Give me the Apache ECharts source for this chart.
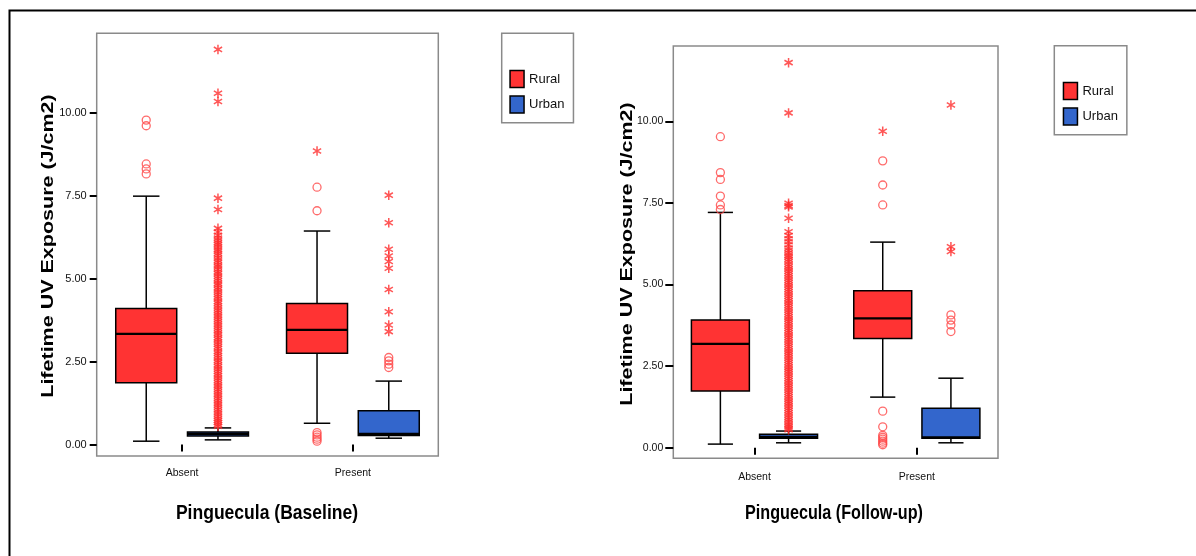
<!DOCTYPE html>
<html>
<head>
<meta charset="utf-8">
<script src="https://cdn.jsdelivr.net/npm/echarts@6/dist/echarts.min.js"></script>
<style>
  html, body { margin: 0; padding: 0; background: #ffffff; }
  #chart { width: 1196px; height: 556px; }
</style>
</head>
<body>
<div id="chart"></div>
<script>
// ---------------- DATA ----------------
const categories = ['Absent', 'Present'];
const groups = ['Rural', 'Urban'];
const yTickValues = [0, 2.5, 5, 7.5, 10];
const yTitle = 'Lifetime UV Exposure (J/cm2)';
const xTitles = ['Pinguecula (Baseline)', 'Pinguecula (Follow-up)'];

// box stats per category: [lower whisker, Q1, median, Q3, upper whisker]
const baselineRural = [[0.10, 1.86, 3.33, 4.10, 7.48], [0.64, 2.75, 3.45, 4.25, 6.43]];
const baselineUrban = [[0.14, 0.26, 0.32, 0.38, 0.50], [0.19, 0.27, 0.32, 1.02, 1.91]];
const followupRural = [[0.11, 1.74, 3.18, 3.91, 7.21], [1.55, 3.35, 3.96, 4.81, 6.30]];
const followupUrban = [[0.15, 0.29, 0.33, 0.41, 0.51], [0.15, 0.29, 0.32, 1.21, 2.13]];

// outliers (circles) and extremes (stars) per category [Absent, Present]
const baselineRuralCircles = [[9.77, 9.60, 8.45, 8.30, 8.15], [7.75, 7.04, 0.36, 0.29, 0.22, 0.16, 0.10]];
const baselineRuralStars = [[], [8.84]];
const baselineUrbanCircles = [[], [2.62, 2.52, 2.42, 2.32]];
const baselineUrbanStars = [
  [11.90, 10.58, 10.33, 7.42, 7.08, 6.51, 6.40, 6.30, 6.22, 6.15, 6.08, 6.02, 5.95, 5.88, 5.83, 5.76, 5.70,
   5.62, 5.55, 5.49, 5.41, 5.35, 5.28, 5.20, 5.14, 5.07, 5.00, 4.93, 4.86, 4.80, 4.72, 4.66, 4.59, 4.52,
   4.45, 4.39, 4.31, 4.25, 4.18, 4.11, 4.04, 3.97, 3.90, 3.84, 3.77, 3.70, 3.63, 3.57, 3.50, 3.43, 3.36,
   3.30, 3.22, 3.16, 3.09, 3.02, 2.95, 2.89, 2.81, 2.75, 2.68, 2.61, 2.54, 2.48, 2.40, 2.34, 2.27, 2.20,
   2.13, 2.07, 2.00, 1.93, 1.86, 1.79, 1.73, 1.66, 1.59, 1.52, 1.46, 1.39, 1.32, 1.25, 1.19, 1.12, 1.05,
   0.98, 0.92, 0.85, 0.78, 0.72, 0.66, 0.60, 0.55],
  [7.51, 6.68, 5.88, 5.68, 5.51, 5.31, 4.67, 4.00, 3.60, 3.40]
];
const followupRuralCircles = [[9.53, 8.43, 8.22, 7.71, 7.44, 7.30], [8.79, 8.05, 7.44, 1.12, 0.64, 0.38, 0.32, 0.26, 0.20, 0.14, 0.09]];
const followupRuralStars = [[], [9.70]];
const followupUrbanCircles = [[], [4.07, 3.91, 3.76, 3.56]];
const followupUrbanStars = [
  [11.80, 10.26, 7.49, 7.42, 7.38, 7.03, 6.62, 6.50, 6.40, 6.31, 6.22, 6.12, 6.05, 5.97, 5.90, 5.84, 5.77,
   5.70, 5.62, 5.55, 5.48, 5.41, 5.34, 5.27, 5.20, 5.13, 5.06, 4.99, 4.92, 4.85, 4.78, 4.71, 4.64, 4.57,
   4.50, 4.43, 4.36, 4.29, 4.22, 4.15, 4.08, 4.01, 3.94, 3.87, 3.80, 3.73, 3.66, 3.59, 3.52, 3.45, 3.38,
   3.31, 3.24, 3.17, 3.10, 3.03, 2.96, 2.89, 2.82, 2.75, 2.68, 2.61, 2.54, 2.47, 2.40, 2.33, 2.26, 2.19,
   2.12, 2.05, 1.98, 1.91, 1.84, 1.77, 1.70, 1.63, 1.56, 1.49, 1.42, 1.35, 1.28, 1.21, 1.14, 1.07, 1.00,
   0.93, 0.86, 0.79, 0.72, 0.66, 0.60, 0.55],
  [10.50, 6.16, 6.01]
];

// ---------------- STYLE / LAYOUT ----------------
const RED = '#ff3333', BLUE = '#3366cc';
const OUT_RED = '#ff2d2d';
const SANS = "'Liberation Sans', Arial, sans-serif";
const OFFSET = 0.21, BOXW = 0.357, CAPW = 0.155;
const STAR = 'path://M4.2 0L5.8 0L5.8 10L4.2 10Z M1.05 1.8L9.74 6.82L8.95 8.2L0.26 3.18Z M0.26 6.82L8.95 1.8L9.74 3.18L1.05 8.2Z';

const grids = [
  { left: 96.7, top: 33.3, width: 341.6, height: 422.7, min: -0.346, max: 12.385,
    tickLen: 7, labMargin: 10, xLabMargin: 12, labSize: 11, catSize: 10.5,
    yTitlePos: [49, 246], yTitleScale: 0.74, xTitlePos: [267, 513], xTitleScale: 0.835,
    sets: [baselineRural, baselineUrban], circles: [baselineRuralCircles, baselineUrbanCircles], stars: [baselineRuralStars, baselineUrbanStars],
    legend: { left: 501.7, top: 33.3, padTop: 36.5, padLeft: 7.6 } },
  { left: 673.3, top: 46, width: 324.7, height: 412.3, min: -0.325, max: 12.31,
    tickLen: 8, labMargin: 10, xLabMargin: 13, labSize: 10.5, catSize: 10.5,
    yTitlePos: [628, 254], yTitleScale: 0.74, xTitlePos: [834, 513], xTitleScale: 0.77,
    sets: [followupRural, followupUrban], circles: [followupRuralCircles, followupUrbanCircles], stars: [followupRuralStars, followupUrbanStars],
    legend: { left: 1054.3, top: 45.7, padTop: 36, padLeft: 8.4 } }
];

function boxRender(side) {
  return function (params, api) {
    const cat = api.value(0);
    const band = api.size([1, 0])[0];
    const cx = api.coord([cat, 0])[0] + side * band * OFFSET;
    const hb = band * BOXW / 2, hc = band * CAPW / 2;
    const y = [1, 2, 3, 4, 5].map(i => api.coord([cat, api.value(i)])[1]);
    const ln = { stroke: '#000', lineWidth: 1.5 };
    return {
      type: 'group',
      children: [
        { type: 'line', shape: { x1: cx, y1: y[4], x2: cx, y2: y[3] }, style: ln },
        { type: 'line', shape: { x1: cx, y1: y[1], x2: cx, y2: y[0] }, style: ln },
        { type: 'line', shape: { x1: cx - hc, y1: y[4], x2: cx + hc, y2: y[4] }, style: ln },
        { type: 'line', shape: { x1: cx - hc, y1: y[0], x2: cx + hc, y2: y[0] }, style: ln },
        { type: 'rect', shape: { x: cx - hb, y: y[3], width: 2 * hb, height: y[1] - y[3] },
          style: { fill: api.visual('color'), stroke: '#000', lineWidth: 1.5 } },
        { type: 'line', shape: { x1: cx - hb, y1: y[2], x2: cx + hb, y2: y[2] }, style: { stroke: '#000', lineWidth: 2.2 } }
      ]
    };
  };
}

function pts(arr) {
  const out = [];
  arr.forEach((vals, ci) => vals.forEach(v => out.push([ci, v])));
  return out;
}

const option = {
  animation: false,
  backgroundColor: '#ffffff',
  textStyle: { fontFamily: SANS },
  grid: [], xAxis: [], yAxis: [], series: [], legend: [],
  graphic: [{
    type: 'rect', left: 7, top: 8, shape: { width: 1200, height: 560 },
    style: { fill: 'none', stroke: '#000', lineWidth: 2 }, silent: true
  }]
};

grids.forEach((g, gi) => {
  option.grid.push({ left: g.left, top: g.top, width: g.width, height: g.height,
    show: true, borderColor: '#8a8a8a', borderWidth: 1.5, backgroundColor: 'transparent' });
  option.xAxis.push({
    type: 'category', gridIndex: gi, data: categories, boundaryGap: true,
    axisLine: { show: false },
    axisTick: { show: true, alignWithLabel: true, interval: 0, length: 7, lineStyle: { color: '#000', width: 2 } },
    axisLabel: { margin: g.xLabMargin, fontFamily: SANS, fontSize: g.catSize, color: '#111' },
    splitLine: { show: false }
  });
  option.yAxis.push({
    type: 'value', gridIndex: gi, min: g.min, max: g.max,
    axisLine: { show: false },
    axisTick: { show: true, customValues: yTickValues, length: g.tickLen, lineStyle: { color: '#000', width: 2 } },
    axisLabel: { customValues: yTickValues, margin: g.labMargin, fontFamily: SANS, fontSize: g.labSize, color: '#111',
      formatter: v => v.toFixed(2) },
    splitLine: { show: false }
  });
  // axis titles (horizontally condensed like the source)
  option.graphic.push({
    type: 'text', x: g.xTitlePos[0], y: g.xTitlePos[1], scaleX: g.xTitleScale, scaleY: 1, silent: true,
    style: { text: xTitles[gi], fontFamily: SANS, fontWeight: 'bold', fontSize: 21, fill: '#000',
      align: 'center', verticalAlign: 'middle' }
  });
  option.graphic.push({
    type: 'text', x: g.yTitlePos[0], y: g.yTitlePos[1], rotation: Math.PI / 2, scaleX: 1, scaleY: g.yTitleScale, silent: true,
    style: { text: yTitle, fontFamily: SANS, fontWeight: 'bold', fontSize: 21.5, fill: '#000',
      align: 'center', verticalAlign: 'middle' }
  });
  const colors = [RED, BLUE];
  g.sets.forEach((set, si) => {
    const side = si === 0 ? -1 : 1;
    option.series.push({
      type: 'custom', name: groups[si], xAxisIndex: gi, yAxisIndex: gi,
      itemStyle: { color: colors[si] },
      renderItem: boxRender(side),
      encode: { x: 0, y: [1, 2, 3, 4, 5] },
      data: set.map((s, ci) => [ci].concat(s)),
      z: 2
    });
    const offPx = side * (g.width / categories.length) * OFFSET;
    option.series.push({
      type: 'scatter', name: groups[si] + ' outliers', xAxisIndex: gi, yAxisIndex: gi,
      symbol: 'circle', symbolSize: 8, symbolOffset: [offPx, 0],
      itemStyle: { color: 'rgba(0,0,0,0)', borderColor: '#ff4646', borderWidth: 1.3 },
      data: pts(g.circles[si]), z: 3
    });
    option.series.push({
      type: 'scatter', name: groups[si] + ' extremes', xAxisIndex: gi, yAxisIndex: gi,
      symbol: STAR, symbolSize: [9, 9.5], symbolOffset: [offPx, 0],
      itemStyle: { color: OUT_RED },
      data: pts(g.stars[si]), z: 3
    });
  });
  option.legend.push({
    orient: 'vertical', left: g.legend.left, top: g.legend.top,
    padding: [g.legend.padTop, 9, 9, g.legend.padLeft],
    borderColor: '#8a8a8a', borderWidth: 1.5, backgroundColor: '#fff',
    itemWidth: 14, itemHeight: 17, itemGap: 7, selectedMode: false,
    itemStyle: { borderColor: '#000', borderWidth: 1.5 },
    textStyle: { fontFamily: SANS, fontSize: 13, color: '#111' },
    data: groups.map(n => ({ name: n, icon: 'rect' }))
  });
});

const chart = echarts.init(document.getElementById('chart'), null, { renderer: 'canvas' });
chart.setOption(option);
</script>
</body>
</html>
